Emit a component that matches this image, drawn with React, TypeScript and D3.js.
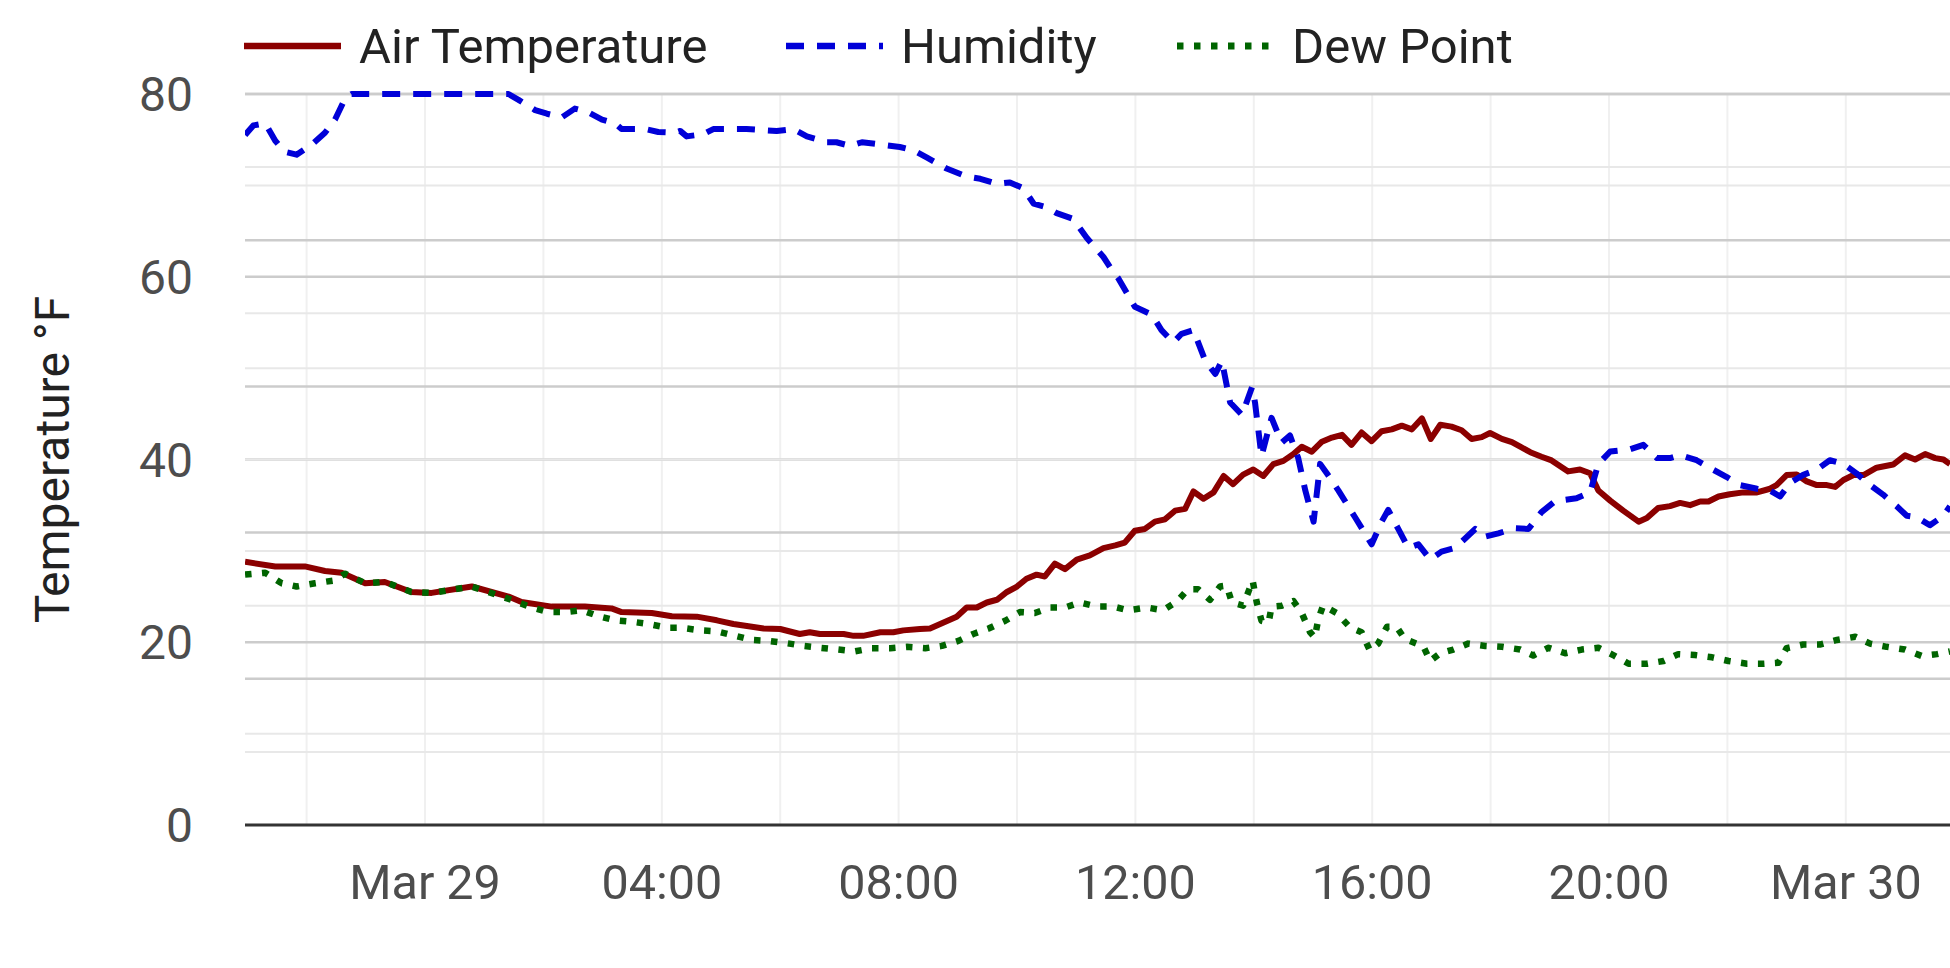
import React from "react";
import * as d3 from "d3";

// ---- data: [hours since Mar 29 00:00, value] ----
const airTemperature: [number, number][] = [
  [-3.04, 28.8], [-2.53, 28.3], [-2.03, 28.3], [-1.69, 27.8], [-1.41, 27.6], [-1.01, 26.45], [-0.68, 26.6],
  [-0.23, 25.5], [0.11, 25.4], [0.79, 26.1], [1.41, 25.0], [1.63, 24.4], [2.14, 23.9], [2.7, 23.9], [3.15, 23.7],
  [3.32, 23.3], [3.83, 23.2], [4.17, 22.85], [4.59, 22.8], [4.93, 22.4], [5.21, 22.0], [5.72, 21.5], [6.0, 21.45],
  [6.33, 20.9], [6.5, 21.1], [6.67, 20.9], [7.07, 20.9], [7.24, 20.7], [7.4, 20.7], [7.69, 21.1], [7.91, 21.1],
  [8.08, 21.3], [8.36, 21.45], [8.53, 21.5], [8.76, 22.15], [8.98, 22.8], [9.15, 23.8], [9.32, 23.8], [9.49, 24.35],
  [9.66, 24.65], [9.83, 25.5], [10.0, 26.1], [10.16, 26.95], [10.33, 27.4], [10.47, 27.2], [10.64, 28.6], [10.81, 28.0],
  [11.01, 29.05], [11.23, 29.5], [11.46, 30.3], [11.66, 30.6], [11.82, 30.9], [11.99, 32.2], [12.16, 32.4], [12.33, 33.2],
  [12.5, 33.45], [12.67, 34.4], [12.84, 34.6], [12.98, 36.5], [13.15, 35.7], [13.32, 36.4], [13.49, 38.2], [13.65, 37.3],
  [13.82, 38.35], [13.99, 38.9], [14.16, 38.2], [14.33, 39.5], [14.5, 39.85], [14.67, 40.6], [14.81, 41.4], [14.98, 40.85],
  [15.15, 41.95], [15.32, 42.4], [15.49, 42.7], [15.65, 41.6], [15.82, 42.95], [15.99, 42.0], [16.16, 43.1], [16.33, 43.3],
  [16.5, 43.7], [16.67, 43.3], [16.84, 44.5], [16.99, 42.25], [17.15, 43.8], [17.34, 43.6], [17.51, 43.2], [17.68, 42.25],
  [17.85, 42.45], [17.99, 42.9], [18.19, 42.25], [18.36, 41.9], [18.5, 41.4], [18.67, 40.8], [18.86, 40.3], [19.03, 39.9],
  [19.31, 38.7], [19.51, 38.9], [19.68, 38.5], [19.82, 36.6], [20.02, 35.5], [20.24, 34.4], [20.5, 33.2], [20.64, 33.6],
  [20.83, 34.7], [21.03, 34.9], [21.2, 35.25], [21.37, 35.0], [21.54, 35.4], [21.68, 35.4], [21.85, 35.95], [22.04, 36.2],
  [22.27, 36.4], [22.5, 36.4], [22.72, 36.8], [22.83, 37.2], [23.0, 38.3], [23.17, 38.35], [23.34, 37.6], [23.51, 37.2],
  [23.68, 37.2], [23.82, 37.0], [23.96, 37.75], [24.13, 38.3], [24.3, 38.3], [24.52, 39.1], [24.8, 39.45], [25.0, 40.45],
  [25.17, 40.0], [25.34, 40.6], [25.51, 40.15], [25.65, 40.0], [25.76, 39.5],
];

const humidity: [number, number][] = [
  [-3.04, 94.4], [-2.9, 95.7], [-2.7, 96.0], [-2.53, 93.6], [-2.37, 92.1], [-2.17, 91.7], [-1.91, 93.1], [-1.69, 94.7],
  [-1.52, 96.5], [-1.35, 99.4], [-1.24, 100], [1.41, 100], [1.58, 99.2], [1.86, 97.8], [2.06, 97.3], [2.31, 96.8],
  [2.53, 98.0], [2.76, 97.5], [2.99, 96.5], [3.21, 96.0], [3.32, 95.2], [3.72, 95.2], [3.94, 94.8], [4.22, 94.7],
  [4.31, 94.95], [4.42, 94.2], [4.7, 94.5], [4.87, 95.2], [5.43, 95.2], [5.94, 94.95], [6.22, 95.2], [6.45, 94.2],
  [6.79, 93.4], [6.95, 93.4], [7.18, 92.9], [7.38, 93.4], [7.69, 93.1], [8.02, 92.75], [8.25, 92.3], [8.48, 91.3],
  [8.81, 89.8], [9.15, 88.7], [9.38, 88.4], [9.66, 87.7], [9.88, 87.9], [10.11, 87.1], [10.28, 85.0], [10.5, 84.5],
  [10.67, 83.7], [10.95, 82.9], [11.18, 80.3], [11.46, 77.7], [11.63, 75.6], [11.71, 74.8], [11.99, 70.9], [12.28, 69.8],
  [12.44, 67.7], [12.64, 66.0], [12.78, 67.2], [12.98, 67.7], [13.18, 63.5], [13.35, 61.7], [13.46, 63.5], [13.6, 57.8],
  [13.8, 56.1], [13.97, 59.9], [14.02, 57.8], [14.13, 50.45], [14.3, 55.7], [14.47, 52.3], [14.61, 53.3], [14.75, 50.2],
  [14.87, 45.75], [15.01, 41.5], [15.12, 49.4], [15.26, 47.8], [15.43, 45.75], [15.71, 42.1], [15.99, 38.4], [16.16, 41.5],
  [16.27, 43.1], [16.44, 40.5], [16.61, 37.9], [16.78, 38.4], [16.98, 36.3], [17.17, 37.4], [17.4, 37.9], [17.57, 39.2],
  [17.74, 40.5], [17.91, 39.45], [18.13, 39.9], [18.41, 40.6], [18.64, 40.5], [18.86, 42.8], [19.09, 44.3], [19.45, 44.7],
  [19.68, 45.5], [19.82, 49.4], [20.02, 51.1], [20.36, 51.4], [20.58, 52.0], [20.81, 50.2], [21.03, 50.2], [21.2, 50.6],
  [21.48, 49.9], [21.76, 48.6], [21.99, 47.6], [22.21, 46.5], [22.5, 46.0], [22.72, 45.75], [22.89, 44.95], [23.06, 46.8],
  [23.28, 47.9], [23.51, 48.6], [23.73, 49.9], [23.96, 49.4], [24.18, 48.1], [24.41, 46.5], [24.63, 45.2], [24.86, 43.6],
  [25.03, 42.3], [25.2, 42.1], [25.42, 41.0], [25.65, 42.3], [25.76, 43.6],
];

const dewPoint: [number, number][] = [
  [-3.04, 27.4], [-2.7, 27.6], [-2.42, 26.45], [-2.17, 26.1], [-1.86, 26.45], [-1.55, 26.75], [-1.35, 27.5], [-1.01, 26.45],
  [-0.68, 26.6], [-0.23, 25.5], [0.11, 25.4], [0.79, 26.1], [1.46, 24.65], [1.8, 23.8], [2.08, 23.3], [2.37, 23.3],
  [2.65, 23.5], [2.93, 22.85], [3.21, 22.4], [3.49, 22.25], [3.77, 22.0], [4.08, 21.6], [4.31, 21.6], [4.65, 21.3],
  [4.93, 21.2], [5.21, 20.75], [5.52, 20.25], [5.8, 20.15], [6.11, 19.9], [6.39, 19.6], [6.67, 19.4], [6.98, 19.2],
  [7.26, 19.0], [7.55, 19.35], [7.86, 19.35], [8.14, 19.5], [8.45, 19.35], [8.73, 19.6], [9.01, 20.15], [9.26, 20.9],
  [9.52, 21.5], [9.8, 22.35], [10.05, 23.3], [10.3, 23.2], [10.56, 23.8], [10.81, 23.8], [11.06, 24.35], [11.35, 23.9],
  [11.63, 23.9], [11.88, 23.5], [12.19, 23.8], [12.47, 23.5], [12.7, 24.45], [12.89, 25.8], [13.06, 25.8], [13.26, 24.65],
  [13.43, 26.1], [13.54, 26.2], [13.63, 24.35], [13.82, 24.0], [13.98, 26.75], [14.05, 24.35], [14.13, 22.35], [14.25, 22.15],
  [14.3, 23.9], [14.47, 24.0], [14.67, 24.5], [14.81, 23.2], [14.95, 21.1], [15.03, 20.5], [15.09, 22.55], [15.17, 24.0],
  [15.4, 23.2], [15.63, 21.6], [15.82, 21.1], [15.96, 19.1], [16.1, 19.85], [16.25, 21.7], [16.41, 21.7], [16.55, 20.35],
  [16.75, 19.85], [16.86, 19.6], [16.98, 17.95], [17.15, 18.8], [17.37, 19.2], [17.62, 19.85], [17.91, 19.6], [18.19, 19.5],
  [18.5, 19.2], [18.72, 18.55], [18.98, 19.4], [19.26, 18.8], [19.54, 19.2], [19.82, 19.4], [20.07, 18.6], [20.33, 17.65],
  [20.64, 17.65], [20.92, 17.95], [21.17, 18.7], [21.45, 18.6], [21.74, 18.35], [22.02, 17.95], [22.33, 17.65], [22.61, 17.65],
  [22.86, 17.75], [23.0, 19.35], [23.28, 19.75], [23.56, 19.75], [23.85, 20.25], [24.16, 20.6], [24.41, 19.85], [24.69, 19.5],
  [25.0, 19.2], [25.28, 18.5], [25.54, 18.7], [25.76, 19.0],
];

const seriesNames = ["Air Temperature", "Humidity", "Dew Point"];
const tempTicks = [0, 20, 40, 60, 80];
const tempMinorTicks = [10, 30, 50, 70];
const humidityTicks = [20, 40, 60, 80, 100];
const humidityMinorTicks = [10, 30, 50, 70, 90];
const axisTitle = "Temperature °F";
const xStartHour = -3.041;
const xEndHour = 25.76;

const BASE = new Date(2024, 2, 29, 0, 0, 0);
const toDate = (h: number) => new Date(BASE.getTime() + h * 3600 * 1000);

const W = 1950;
const H = 968;
const L = 245;
const R = 1950;
const T = 94;
const B = 825;
const FONT = "Roboto, 'Noto Sans', sans-serif";

export default function App() {
  const x = d3.scaleTime().domain([toDate(xStartHour), toDate(xEndHour)]).range([L, R]);
  const yT = d3.scaleLinear().domain([0, 80]).range([B, T]);
  const yH = d3.scaleLinear().domain([0, 100]).range([B, T]);

  const gridTicks = x.ticks(d3.timeHour.every(2)!);
  const labelTicks = x.ticks(d3.timeHour.every(4)!);
  const fmt = (d: Date) =>
    d.getHours() === 0 && d.getMinutes() === 0 ? d3.timeFormat("%b %d")(d) : d3.timeFormat("%H:%M")(d);

  const lineT = d3
    .line<[number, number]>()
    .x((d) => x(toDate(d[0])))
    .y((d) => yT(d[1]));
  const lineH = d3
    .line<[number, number]>()
    .x((d) => x(toDate(d[0])))
    .y((d) => yH(d[1]));

  const series = [
    { name: seriesNames[0], color: "#8B0000", width: 6, dash: "none", d: lineT(airTemperature) || "" },
    { name: seriesNames[1], color: "#0000D8", width: 6, dash: "18 13", d: lineH(humidity) || "" },
    { name: seriesNames[2], color: "#006400", width: 6.5, dash: "6.5 10.5", d: lineT(dewPoint) || "" },
  ];
  const legendX = [244, 786, 1177];

  return (
    <div style={{ position: "absolute", left: 0, top: 0 }}>
      <svg width={W} height={H} style={{ display: "block", background: "#fff" }} fontFamily={FONT}>
        <defs>
          <clipPath id="plotClip">
            <rect x={L} y={0} width={R - L} height={H} />
          </clipPath>
        </defs>
        {/* vertical grid */}
        {gridTicks.map((t, i) => (
          <line key={"vg" + i} x1={x(t)} x2={x(t)} y1={T} y2={B} stroke="#f0f0f0" strokeWidth={2} />
        ))}
        {/* major grid lines */}
        {tempTicks
          .filter((v) => v > 0)
          .map((v) => (
            <line key={"tg" + v} x1={L} x2={R} y1={yT(v)} y2={yT(v)} stroke="#cccccc" strokeWidth={2.5} />
          ))}
        {humidityTicks.map((v) => (
          <line key={"hg" + v} x1={L} x2={R} y1={yH(v)} y2={yH(v)} stroke="#cccccc" strokeWidth={2.5} />
        ))}
        {/* minor grid lines */}
        {tempMinorTicks.map((v) => (
          <line key={"tm" + v} x1={L} x2={R} y1={yT(v)} y2={yT(v)} stroke="#e8e8e8" strokeWidth={2} />
        ))}
        {humidityMinorTicks.map((v) => (
          <line key={"hm" + v} x1={L} x2={R} y1={yH(v)} y2={yH(v)} stroke="#e8e8e8" strokeWidth={2} />
        ))}
        {/* x axis line */}
        <line x1={L} x2={R} y1={B} y2={B} stroke="#333333" strokeWidth={3} />
        {/* y labels */}
        {tempTicks.map((v) => (
          <text key={"yl" + v} x={193} y={yT(v) + 17} textAnchor="end" fontSize={48} fill="#4d4d4d">
            {v}
          </text>
        ))}
        {/* x labels */}
        {labelTicks.map((t, i) => (
          <text key={"xl" + i} x={x(t)} y={899} textAnchor="middle" fontSize={48.5} fill="#4d4d4d">
            {fmt(t)}
          </text>
        ))}
        {/* axis title */}
        <text transform={`translate(69, ${(T + B) / 2}) rotate(-90)`} textAnchor="middle" fontSize={48} fill="#222">
          {axisTitle}
        </text>
        {/* series */}
        <g clipPath="url(#plotClip)">
          {series.map((s) => (
            <path
              key={s.name}
              d={s.d}
              fill="none"
              stroke={s.color}
              strokeWidth={s.width}
              strokeDasharray={s.dash}
              strokeLinejoin="round"
            />
          ))}
        </g>
        {/* legend */}
        {series.map((s, i) => (
          <g key={"lg" + i}>
            <line
              x1={legendX[i]}
              x2={legendX[i] + 97}
              y1={46}
              y2={46}
              stroke={s.color}
              strokeWidth={s.width + 0.5}
              strokeDasharray={s.dash}
            />
            <text x={legendX[i] + 115} y={63} fontSize={49} fill="#222">
              {s.name}
            </text>
          </g>
        ))}
      </svg>
    </div>
  );
}
